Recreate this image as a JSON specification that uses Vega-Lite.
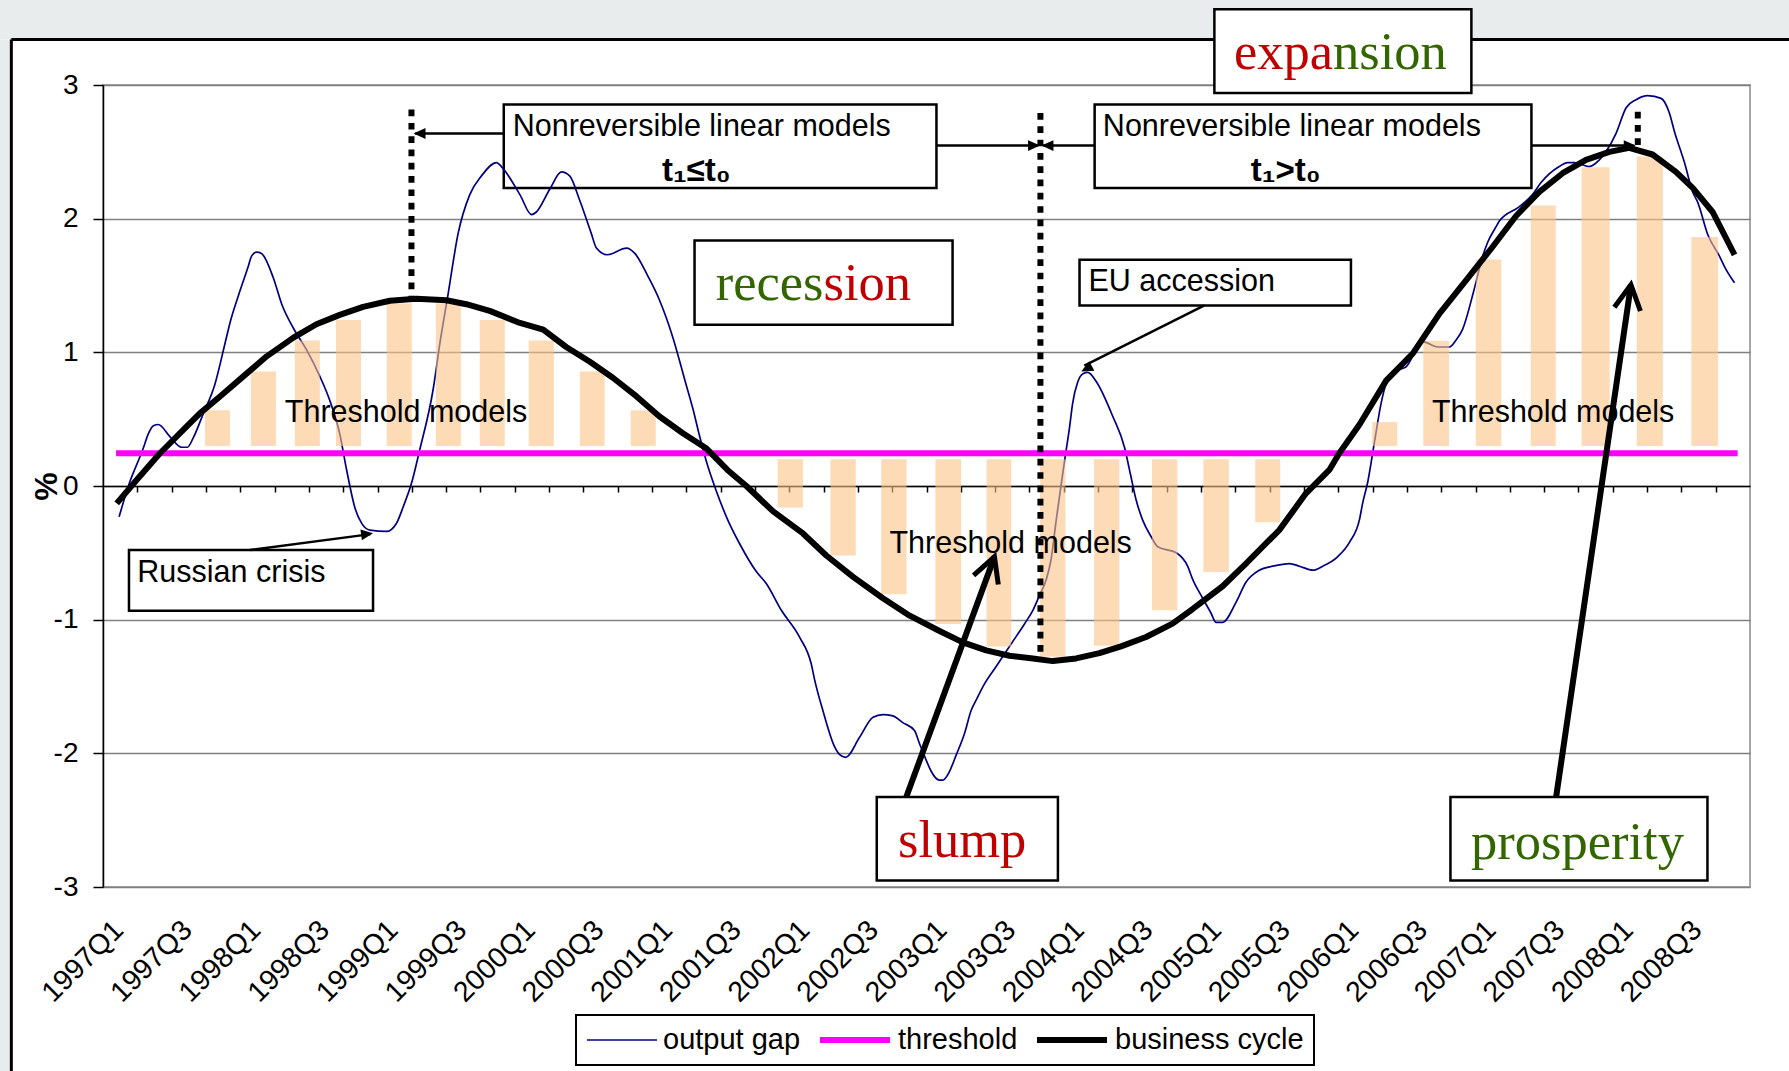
{
  "$schema": "https://vega.github.io/schema/vega-lite/v6.json",
  "width": 1647,
  "height": 802,
  "autosize": "none",
  "padding": {"left": 103, "top": 85, "right": 39, "bottom": 184},
  "background": "white",
  "config": {
    "view": {"stroke": "#A6A6A6", "strokeWidth": 2},
    "font": "Liberation Sans",
    "legend": {
      "orient": "none",
      "legendX": 473,
      "legendY": 930,
      "direction": "horizontal",
      "symbolType": "stroke",
      "symbolSize": 4900,
      "clipHeight": 30,
      "labelFont": "Liberation Sans",
      "labelFontSize": 29,
      "labelColor": "black",
      "labelOffset": 5,
      "labelLimit": 400,
      "columnPadding": 16,
      "padding": 10,
      "strokeColor": "black",
      "strokeWidth": 2,
      "fillColor": "white"
    }
  },
  "datasets": {
    "stripes": [
      {"t1": -3.1, "t2": 49.3, "v1": 3.7, "v2": 3.341},
      {"t1": -3.1, "t2": -2.671, "v1": 3.341, "v2": -4.5}
    ],
    "frame": [
      {"t1": -2.671, "t2": 49.3, "v1": 3.341, "v2": 3.341},
      {"t1": -2.671, "t2": -2.671, "v1": 3.341, "v2": -4.5}
    ],
    "boxes": [
      {"box": "A", "t1": 11.68, "t2": 24.29, "v1": 2.854, "v2": 2.23},
      {"box": "B", "t1": 28.9, "t2": 41.63, "v1": 2.854, "v2": 2.23},
      {"box": "expansion", "t1": 32.39, "t2": 39.88, "v1": 3.566, "v2": 2.94},
      {"box": "recession", "t1": 17.24, "t2": 24.76, "v1": 1.837, "v2": 1.206},
      {"box": "EU", "t1": 28.46, "t2": 36.37, "v1": 1.693, "v2": 1.351},
      {"box": "Russian", "t1": 0.757, "t2": 7.87, "v1": -0.479, "v2": -0.934},
      {"box": "slump", "t1": 22.55, "t2": 27.83, "v1": -2.327, "v2": -2.951},
      {"box": "prosperity", "t1": 39.27, "t2": 46.76, "v1": -2.327, "v2": -2.951}
    ],
    "outputGap": [
      {"t": 0.47, "v": -0.23, "series": "output gap"},
      {"t": 0.74, "v": 0.0, "series": "output gap"},
      {"t": 1.17, "v": 0.28, "series": "output gap"},
      {"t": 1.32, "v": 0.39, "series": "output gap"},
      {"t": 1.47, "v": 0.45, "series": "output gap"},
      {"t": 1.61, "v": 0.46, "series": "output gap"},
      {"t": 1.95, "v": 0.37, "series": "output gap"},
      {"t": 2.29, "v": 0.29, "series": "output gap"},
      {"t": 2.46, "v": 0.29, "series": "output gap"},
      {"t": 2.63, "v": 0.36, "series": "output gap"},
      {"t": 2.92, "v": 0.54, "series": "output gap"},
      {"t": 3.26, "v": 0.76, "series": "output gap"},
      {"t": 3.55, "v": 1.06, "series": "output gap"},
      {"t": 3.7, "v": 1.22, "series": "output gap"},
      {"t": 3.94, "v": 1.42, "series": "output gap"},
      {"t": 4.23, "v": 1.64, "series": "output gap"},
      {"t": 4.33, "v": 1.72, "series": "output gap"},
      {"t": 4.48, "v": 1.75, "series": "output gap"},
      {"t": 4.62, "v": 1.74, "series": "output gap"},
      {"t": 4.96, "v": 1.56, "series": "output gap"},
      {"t": 5.21, "v": 1.36, "series": "output gap"},
      {"t": 5.55, "v": 1.18, "series": "output gap"},
      {"t": 5.93, "v": 1.02, "series": "output gap"},
      {"t": 6.32, "v": 0.82, "series": "output gap"},
      {"t": 6.61, "v": 0.64, "series": "output gap"},
      {"t": 6.9, "v": 0.39, "series": "output gap"},
      {"t": 7.1, "v": 0.12, "series": "output gap"},
      {"t": 7.35, "v": -0.17, "series": "output gap"},
      {"t": 7.54, "v": -0.28, "series": "output gap"},
      {"t": 7.78, "v": -0.33, "series": "output gap"},
      {"t": 8.26, "v": -0.34, "series": "output gap"},
      {"t": 8.55, "v": -0.28, "series": "output gap"},
      {"t": 8.75, "v": -0.155, "series": "output gap"},
      {"t": 8.99, "v": 0.02, "series": "output gap"},
      {"t": 9.23, "v": 0.27, "series": "output gap"},
      {"t": 9.62, "v": 0.72, "series": "output gap"},
      {"t": 9.82, "v": 1.07, "series": "output gap"},
      {"t": 10.06, "v": 1.44, "series": "output gap"},
      {"t": 10.35, "v": 1.89, "series": "output gap"},
      {"t": 10.69, "v": 2.18, "series": "output gap"},
      {"t": 11.03, "v": 2.32, "series": "output gap"},
      {"t": 11.47, "v": 2.42, "series": "output gap"},
      {"t": 11.61, "v": 2.39, "series": "output gap"},
      {"t": 12.15, "v": 2.18, "series": "output gap"},
      {"t": 12.49, "v": 2.03, "series": "output gap"},
      {"t": 12.63, "v": 2.05, "series": "output gap"},
      {"t": 13.02, "v": 2.22, "series": "output gap"},
      {"t": 13.36, "v": 2.35, "series": "output gap"},
      {"t": 13.6, "v": 2.32, "series": "output gap"},
      {"t": 13.89, "v": 2.14, "series": "output gap"},
      {"t": 14.23, "v": 1.89, "series": "output gap"},
      {"t": 14.38, "v": 1.78, "series": "output gap"},
      {"t": 14.69, "v": 1.73, "series": "output gap"},
      {"t": 15.26, "v": 1.78, "series": "output gap"},
      {"t": 15.5, "v": 1.74, "series": "output gap"},
      {"t": 15.88, "v": 1.57, "series": "output gap"},
      {"t": 16.22, "v": 1.39, "series": "output gap"},
      {"t": 16.61, "v": 1.11, "series": "output gap"},
      {"t": 16.96, "v": 0.79, "series": "output gap"},
      {"t": 17.2, "v": 0.57, "series": "output gap"},
      {"t": 17.39, "v": 0.37, "series": "output gap"},
      {"t": 17.63, "v": 0.145, "series": "output gap"},
      {"t": 17.85, "v": -0.02, "series": "output gap"},
      {"t": 18.21, "v": -0.255, "series": "output gap"},
      {"t": 18.55, "v": -0.43, "series": "output gap"},
      {"t": 19.04, "v": -0.64, "series": "output gap"},
      {"t": 19.33, "v": -0.73, "series": "output gap"},
      {"t": 19.77, "v": -0.93, "series": "output gap"},
      {"t": 20.3, "v": -1.13, "series": "output gap"},
      {"t": 20.64, "v": -1.33, "series": "output gap"},
      {"t": 20.74, "v": -1.45, "series": "output gap"},
      {"t": 20.98, "v": -1.68, "series": "output gap"},
      {"t": 21.32, "v": -1.95, "series": "output gap"},
      {"t": 21.47, "v": -2.01, "series": "output gap"},
      {"t": 21.64, "v": -2.03, "series": "output gap"},
      {"t": 22.05, "v": -1.88, "series": "output gap"},
      {"t": 22.44, "v": -1.73, "series": "output gap"},
      {"t": 22.73, "v": -1.71, "series": "output gap"},
      {"t": 23.02, "v": -1.72, "series": "output gap"},
      {"t": 23.31, "v": -1.77, "series": "output gap"},
      {"t": 23.65, "v": -1.83, "series": "output gap"},
      {"t": 23.8, "v": -1.93, "series": "output gap"},
      {"t": 24.38, "v": -2.2, "series": "output gap"},
      {"t": 24.48, "v": -2.2, "series": "output gap"},
      {"t": 24.62, "v": -2.16, "series": "output gap"},
      {"t": 24.87, "v": -2.01, "series": "output gap"},
      {"t": 25.11, "v": -1.85, "series": "output gap"},
      {"t": 25.3, "v": -1.68, "series": "output gap"},
      {"t": 25.45, "v": -1.6, "series": "output gap"},
      {"t": 25.69, "v": -1.48, "series": "output gap"},
      {"t": 26.03, "v": -1.35, "series": "output gap"},
      {"t": 26.47, "v": -1.18, "series": "output gap"},
      {"t": 26.86, "v": -1.03, "series": "output gap"},
      {"t": 27.1, "v": -0.93, "series": "output gap"},
      {"t": 27.29, "v": -0.82, "series": "output gap"},
      {"t": 27.49, "v": -0.7, "series": "output gap"},
      {"t": 27.63, "v": -0.55, "series": "output gap"},
      {"t": 27.78, "v": -0.255, "series": "output gap"},
      {"t": 27.93, "v": 0.02, "series": "output gap"},
      {"t": 28.03, "v": 0.2, "series": "output gap"},
      {"t": 28.17, "v": 0.44, "series": "output gap"},
      {"t": 28.26, "v": 0.62, "series": "output gap"},
      {"t": 28.41, "v": 0.78, "series": "output gap"},
      {"t": 28.56, "v": 0.84, "series": "output gap"},
      {"t": 28.7, "v": 0.85, "series": "output gap"},
      {"t": 28.95, "v": 0.78, "series": "output gap"},
      {"t": 29.43, "v": 0.52, "series": "output gap"},
      {"t": 29.77, "v": 0.29, "series": "output gap"},
      {"t": 29.95, "v": 0.08, "series": "output gap"},
      {"t": 30.11, "v": -0.105, "series": "output gap"},
      {"t": 30.3, "v": -0.255, "series": "output gap"},
      {"t": 30.55, "v": -0.38, "series": "output gap"},
      {"t": 30.74, "v": -0.455, "series": "output gap"},
      {"t": 31.28, "v": -0.5, "series": "output gap"},
      {"t": 31.61, "v": -0.6, "series": "output gap"},
      {"t": 31.76, "v": -0.7, "series": "output gap"},
      {"t": 32.05, "v": -0.84, "series": "output gap"},
      {"t": 32.29, "v": -0.95, "series": "output gap"},
      {"t": 32.44, "v": -1.02, "series": "output gap"},
      {"t": 32.63, "v": -1.02, "series": "output gap"},
      {"t": 33.02, "v": -0.87, "series": "output gap"},
      {"t": 33.31, "v": -0.72, "series": "output gap"},
      {"t": 33.7, "v": -0.63, "series": "output gap"},
      {"t": 34.09, "v": -0.6, "series": "output gap"},
      {"t": 34.58, "v": -0.58, "series": "output gap"},
      {"t": 34.87, "v": -0.6, "series": "output gap"},
      {"t": 35.26, "v": -0.63, "series": "output gap"},
      {"t": 35.55, "v": -0.6, "series": "output gap"},
      {"t": 35.98, "v": -0.53, "series": "output gap"},
      {"t": 36.33, "v": -0.42, "series": "output gap"},
      {"t": 36.62, "v": -0.25, "series": "output gap"},
      {"t": 36.71, "v": -0.13, "series": "output gap"},
      {"t": 36.86, "v": 0.03, "series": "output gap"},
      {"t": 37.05, "v": 0.32, "series": "output gap"},
      {"t": 37.25, "v": 0.62, "series": "output gap"},
      {"t": 37.39, "v": 0.76, "series": "output gap"},
      {"t": 37.78, "v": 0.87, "series": "output gap"},
      {"t": 37.97, "v": 0.89, "series": "output gap"},
      {"t": 38.46, "v": 1.08, "series": "output gap"},
      {"t": 38.9, "v": 1.04, "series": "output gap"},
      {"t": 39.24, "v": 1.04, "series": "output gap"},
      {"t": 39.43, "v": 1.09, "series": "output gap"},
      {"t": 39.62, "v": 1.17, "series": "output gap"},
      {"t": 39.96, "v": 1.47, "series": "output gap"},
      {"t": 40.21, "v": 1.72, "series": "output gap"},
      {"t": 40.35, "v": 1.82, "series": "output gap"},
      {"t": 40.6, "v": 1.94, "series": "output gap"},
      {"t": 40.69, "v": 1.98, "series": "output gap"},
      {"t": 41.28, "v": 2.09, "series": "output gap"},
      {"t": 41.66, "v": 2.18, "series": "output gap"},
      {"t": 41.91, "v": 2.27, "series": "output gap"},
      {"t": 42.44, "v": 2.39, "series": "output gap"},
      {"t": 42.68, "v": 2.42, "series": "output gap"},
      {"t": 42.88, "v": 2.42, "series": "output gap"},
      {"t": 43.31, "v": 2.39, "series": "output gap"},
      {"t": 43.61, "v": 2.44, "series": "output gap"},
      {"t": 43.8, "v": 2.5, "series": "output gap"},
      {"t": 44.1, "v": 2.64, "series": "output gap"},
      {"t": 44.39, "v": 2.83, "series": "output gap"},
      {"t": 44.68, "v": 2.89, "series": "output gap"},
      {"t": 45.02, "v": 2.92, "series": "output gap"},
      {"t": 45.41, "v": 2.9, "series": "output gap"},
      {"t": 45.65, "v": 2.79, "series": "output gap"},
      {"t": 45.8, "v": 2.65, "series": "output gap"},
      {"t": 46.09, "v": 2.42, "series": "output gap"},
      {"t": 46.33, "v": 2.2, "series": "output gap"},
      {"t": 46.48, "v": 2.12, "series": "output gap"},
      {"t": 46.77, "v": 1.88, "series": "output gap"},
      {"t": 47.11, "v": 1.72, "series": "output gap"},
      {"t": 47.26, "v": 1.64, "series": "output gap"},
      {"t": 47.55, "v": 1.52, "series": "output gap"}
    ],
    "bars": [
      {"t1": 2.97, "t2": 3.7, "v": 0.567, "base": 0.3},
      {"t1": 4.31, "t2": 5.04, "v": 0.857, "base": 0.3},
      {"t1": 5.59, "t2": 6.32, "v": 1.088, "base": 0.3},
      {"t1": 6.79, "t2": 7.52, "v": 1.241, "base": 0.3},
      {"t1": 8.27, "t2": 9.0, "v": 1.366, "base": 0.3},
      {"t1": 9.7, "t2": 10.43, "v": 1.366, "base": 0.3},
      {"t1": 10.98, "t2": 11.71, "v": 1.241, "base": 0.3},
      {"t1": 12.41, "t2": 13.14, "v": 1.088, "base": 0.3},
      {"t1": 13.9, "t2": 14.62, "v": 0.857, "base": 0.3},
      {"t1": 15.38, "t2": 16.11, "v": 0.566, "base": 0.3},
      {"t1": 19.66, "t2": 20.4, "v": -0.16, "base": 0.2},
      {"t1": 21.2, "t2": 21.94, "v": -0.52, "base": 0.2},
      {"t1": 22.68, "t2": 23.42, "v": -0.81, "base": 0.2},
      {"t1": 24.26, "t2": 25.01, "v": -1.033, "base": 0.2},
      {"t1": 25.75, "t2": 26.47, "v": -1.2, "base": 0.2},
      {"t1": 27.31, "t2": 28.05, "v": -1.278, "base": 0.2},
      {"t1": 28.88, "t2": 29.62, "v": -1.195, "base": 0.2},
      {"t1": 30.57, "t2": 31.31, "v": -0.93, "base": 0.2},
      {"t1": 32.07, "t2": 32.81, "v": -0.644, "base": 0.2},
      {"t1": 33.58, "t2": 34.31, "v": -0.271, "base": 0.2},
      {"t1": 36.99, "t2": 37.72, "v": 0.478, "base": 0.3},
      {"t1": 38.48, "t2": 39.23, "v": 1.087, "base": 0.3},
      {"t1": 40.01, "t2": 40.75, "v": 1.694, "base": 0.3},
      {"t1": 41.61, "t2": 42.34, "v": 2.098, "base": 0.3},
      {"t1": 43.09, "t2": 43.91, "v": 2.384, "base": 0.3},
      {"t1": 44.7, "t2": 45.46, "v": 2.466, "base": 0.3},
      {"t1": 46.29, "t2": 47.07, "v": 1.862, "base": 0.3}
    ],
    "threshold": [
      {"t": 0.38, "v": 0.245, "series": "threshold"},
      {"t": 47.64, "v": 0.245, "series": "threshold"}
    ],
    "businessCycle": [
      {"t": 0.4, "v": -0.13, "series": "business cycle"},
      {"t": 0.98, "v": 0.045, "series": "business cycle"},
      {"t": 1.66, "v": 0.245, "series": "business cycle"},
      {"t": 2.34, "v": 0.42, "series": "business cycle"},
      {"t": 2.83, "v": 0.545, "series": "business cycle"},
      {"t": 3.41, "v": 0.67, "series": "business cycle"},
      {"t": 4.09, "v": 0.82, "series": "business cycle"},
      {"t": 4.77, "v": 0.97, "series": "business cycle"},
      {"t": 5.55, "v": 1.11, "series": "business cycle"},
      {"t": 6.22, "v": 1.21, "series": "business cycle"},
      {"t": 6.9, "v": 1.28, "series": "business cycle"},
      {"t": 7.58, "v": 1.34, "series": "business cycle"},
      {"t": 8.36, "v": 1.386, "series": "business cycle"},
      {"t": 9.13, "v": 1.4, "series": "business cycle"},
      {"t": 10.01, "v": 1.39, "series": "business cycle"},
      {"t": 10.59, "v": 1.36, "series": "business cycle"},
      {"t": 11.27, "v": 1.31, "series": "business cycle"},
      {"t": 12.15, "v": 1.22, "series": "business cycle"},
      {"t": 12.83, "v": 1.17, "series": "business cycle"},
      {"t": 13.5, "v": 1.04, "series": "business cycle"},
      {"t": 14.19, "v": 0.93, "series": "business cycle"},
      {"t": 14.86, "v": 0.81, "series": "business cycle"},
      {"t": 15.55, "v": 0.67, "series": "business cycle"},
      {"t": 16.22, "v": 0.52, "series": "business cycle"},
      {"t": 16.9, "v": 0.395, "series": "business cycle"},
      {"t": 17.59, "v": 0.28, "series": "business cycle"},
      {"t": 18.2, "v": 0.12, "series": "business cycle"},
      {"t": 18.75, "v": 0.0, "series": "business cycle"},
      {"t": 19.53, "v": -0.19, "series": "business cycle"},
      {"t": 20.4, "v": -0.355, "series": "business cycle"},
      {"t": 21.08, "v": -0.52, "series": "business cycle"},
      {"t": 21.86, "v": -0.68, "series": "business cycle"},
      {"t": 22.73, "v": -0.84, "series": "business cycle"},
      {"t": 23.51, "v": -0.97, "series": "business cycle"},
      {"t": 24.38, "v": -1.085, "series": "business cycle"},
      {"t": 25.06, "v": -1.17, "series": "business cycle"},
      {"t": 25.74, "v": -1.23, "series": "business cycle"},
      {"t": 26.42, "v": -1.27, "series": "business cycle"},
      {"t": 27.1, "v": -1.29, "series": "business cycle"},
      {"t": 27.68, "v": -1.31, "series": "business cycle"},
      {"t": 28.36, "v": -1.29, "series": "business cycle"},
      {"t": 29.04, "v": -1.25, "series": "business cycle"},
      {"t": 29.67, "v": -1.2, "series": "business cycle"},
      {"t": 30.4, "v": -1.13, "series": "business cycle"},
      {"t": 31.17, "v": -1.03, "series": "business cycle"},
      {"t": 31.76, "v": -0.92, "series": "business cycle"},
      {"t": 32.63, "v": -0.75, "series": "business cycle"},
      {"t": 33.31, "v": -0.58, "series": "business cycle"},
      {"t": 34.28, "v": -0.33, "series": "business cycle"},
      {"t": 35.06, "v": -0.055, "series": "business cycle"},
      {"t": 35.74, "v": 0.12, "series": "business cycle"},
      {"t": 36.03, "v": 0.245, "series": "business cycle"},
      {"t": 36.62, "v": 0.46, "series": "business cycle"},
      {"t": 37.4, "v": 0.79, "series": "business cycle"},
      {"t": 38.17, "v": 0.99, "series": "business cycle"},
      {"t": 38.95, "v": 1.29, "series": "business cycle"},
      {"t": 39.73, "v": 1.54, "series": "business cycle"},
      {"t": 40.5, "v": 1.79, "series": "business cycle"},
      {"t": 41.18, "v": 2.02, "series": "business cycle"},
      {"t": 41.86, "v": 2.2, "series": "business cycle"},
      {"t": 42.54, "v": 2.34, "series": "business cycle"},
      {"t": 43.22, "v": 2.44, "series": "business cycle"},
      {"t": 43.9, "v": 2.5, "series": "business cycle"},
      {"t": 44.48, "v": 2.53, "series": "business cycle"},
      {"t": 45.16, "v": 2.48, "series": "business cycle"},
      {"t": 45.84, "v": 2.35, "series": "business cycle"},
      {"t": 46.33, "v": 2.23, "series": "business cycle"},
      {"t": 46.91, "v": 2.05, "series": "business cycle"},
      {"t": 47.55, "v": 1.73, "series": "business cycle"}
    ],
    "dashed": [
      {"t": 8.99, "v1": 2.816, "v2": 1.4},
      {"t": 27.32, "v1": 2.79, "v2": -1.27},
      {"t": 44.73, "v1": 2.8, "v2": 2.5}
    ],
    "thinArrows": [
      {"name": "A-left", "t1": 11.68, "v1": 2.637, "t2": 9.1, "v2": 2.637},
      {"name": "A-right", "t1": 24.29, "v1": 2.547, "t2": 27.25, "v2": 2.547},
      {"name": "B-left", "t1": 28.9, "v1": 2.547, "t2": 27.4, "v2": 2.547},
      {"name": "B-right", "t1": 41.63, "v1": 2.547, "t2": 44.6, "v2": 2.547},
      {"name": "EU", "t1": 32.1, "v1": 1.351, "t2": 28.6, "v2": 0.9},
      {"name": "Russian", "t1": 4.28, "v1": -0.479, "t2": 7.8, "v2": -0.36}
    ],
    "thickArrows": [
      {"name": "slump", "t1": 23.41, "v1": -2.327, "t2": 25.98, "v2": -0.53},
      {"name": "prosperity", "t1": 42.35, "v1": -2.327, "t2": 44.53, "v2": 1.506}
    ],
    "headsLeft": [
      {"t": 9.05, "v": 2.637},
      {"t": 27.35, "v": 2.547}
    ],
    "headsRight": [
      {"t": 27.31, "v": 2.547},
      {"t": 44.67, "v": 2.547}
    ],
    "headEU": [{"t": 28.51, "v": 0.856}],
    "headRussian": [{"t": 7.87, "v": -0.354}],
    "headSlump": [{"t": 25.98, "v": -0.53}],
    "headProsperity": [{"t": 44.53, "v": 1.506}],
    "plainText": [
      {"label": "Nonreversible linear models", "t": 11.94, "v": 2.617},
      {"label": "Nonreversible linear models", "t": 29.14, "v": 2.617},
      {"label": "EU accession", "t": 28.72, "v": 1.461},
      {"label": "Russian crisis", "t": 1.0, "v": -0.717},
      {"label": "Threshold models", "t": 5.3, "v": 0.482},
      {"label": "Threshold models", "t": 22.92, "v": -0.504},
      {"label": "Threshold models", "t": 38.73, "v": 0.482}
    ],
    "boldText": [
      {"label": "t₁≤t₀", "t": 17.29, "v": 2.279},
      {"label": "t₁>t₀", "t": 34.47, "v": 2.279}
    ],
    "redRight": [{"label": "expa", "t": 35.85, "v": 3.119}],
    "greenLeft": [
      {"label": "nsion", "t": 35.85, "v": 3.119},
      {"label": "prosperity", "t": 39.87, "v": -2.789}
    ],
    "greenRight": [{"label": "reces", "t": 21.0, "v": 1.388}],
    "redLeft": [
      {"label": "sion", "t": 21.0, "v": 1.388},
      {"label": "slump", "t": 23.17, "v": -2.778}
    ]
  },
  "resolve": {"axis": {"x": "independent", "y": "independent"}},
  "layer": [
    {
      "data": {"name": "stripes"},
      "mark": {"type": "rect", "fill": "#E9ECEC"},
      "encoding": {
        "x": {"field": "t1", "type": "quantitative", "scale": {"domain": [0, 48], "nice": false, "zero": false}, "axis": null},
        "x2": {"field": "t2"},
        "y": {"field": "v1", "type": "quantitative", "scale": {"domain": [-3, 3], "nice": false, "zero": false}, "axis": null},
        "y2": {"field": "v2"}
      }
    },
    {
      "data": {"name": "frame"},
      "mark": {"type": "rule", "color": "black", "strokeWidth": 3},
      "encoding": {
        "x": {"field": "t1", "type": "quantitative", "scale": {"domain": [0, 48], "nice": false, "zero": false}, "axis": null},
        "x2": {"field": "t2"},
        "y": {"field": "v1", "type": "quantitative", "scale": {"domain": [-3, 3], "nice": false, "zero": false}, "axis": null},
        "y2": {"field": "v2"}
      }
    },
    {
      "data": {"name": "boxes"},
      "mark": {"type": "rect", "fill": "white", "stroke": "black", "strokeWidth": 2.5},
      "encoding": {
        "x": {"field": "t1", "type": "quantitative", "scale": {"domain": [0, 48], "nice": false, "zero": false}, "axis": null},
        "x2": {"field": "t2"},
        "y": {"field": "v1", "type": "quantitative", "scale": {"domain": [-3, 3], "nice": false, "zero": false}, "axis": null},
        "y2": {"field": "v2"}
      }
    },
    {
      "data": {"name": "outputGap"},
      "mark": {"type": "line", "interpolate": "monotone", "strokeCap": "butt"},
      "encoding": {
        "x": {
          "field": "t", "type": "quantitative",
          "scale": {"domain": [0, 48], "nice": false, "zero": false},
          "axis": {
            "orient": "bottom",
            "values": [0.5, 2.5, 4.5, 6.5, 8.5, 10.5, 12.5, 14.5, 16.5, 18.5, 20.5, 22.5, 24.5, 26.5, 28.5, 30.5, 32.5, 34.5, 36.5, 38.5, 40.5, 42.5, 44.5, 46.5],
            "labelExpr": "(1997 + floor(datum.value / 4)) + 'Q' + (floor(datum.value) % 4 + 1)",
            "labelAngle": -45,
            "labelAlign": "right",
            "labelBaseline": "middle",
            "labelPadding": 38,
            "labelOffset": -2,
            "labelFont": "Liberation Sans",
            "labelFontSize": 28.5,
            "labelColor": "black",
            "labelOverlap": false,
            "labelBound": false,
            "labelFlush": false,
            "ticks": false,
            "tickSize": 0,
            "domain": false,
            "grid": false,
            "title": null
          }
        },
        "y": {
          "field": "v", "type": "quantitative",
          "scale": {"domain": [-3, 3], "nice": false, "zero": false},
          "axis": {
            "orient": "left",
            "values": [-3, -2, -1, 0, 1, 2, 3],
            "labelExpr": "'' + datum.value",
            "labelFont": "Liberation Sans",
            "labelFontSize": 28,
            "labelColor": "black",
            "labelPadding": 15,
            "labelOverlap": false,
            "labelBound": false,
            "labelFlush": false,
            "tickSize": 10,
            "tickColor": "black",
            "tickWidth": 1.5,
            "domainColor": "black",
            "domainWidth": 1.5,
            "grid": true,
            "gridColor": "#808080",
            "gridWidth": 1.3,
            "title": "%",
            "titleFont": "Liberation Sans",
            "titleFontSize": 32,
            "titleFontWeight": "bold",
            "titleColor": "black",
            "titleAngle": 270,
            "titleX": -56.5,
            "titleY": 401,
            "titleAlign": "center",
            "titleBaseline": "middle"
          }
        },
        "color": {
          "field": "series", "type": "nominal",
          "scale": {"domain": ["output gap", "threshold", "business cycle"], "range": ["#000080", "#FF00FF", "#000000"]},
          "legend": {"title": null}
        },
        "strokeWidth": {
          "field": "series", "type": "nominal",
          "scale": {"type": "ordinal", "domain": ["output gap", "threshold", "business cycle"], "range": [1.7, 6, 6]},
          "legend": {"title": null}
        }
      }
    },
    {
      "data": {"name": "bars"},
      "mark": {"type": "rect", "fill": "#FCC385", "opacity": 0.6},
      "encoding": {
        "x": {"field": "t1", "type": "quantitative", "scale": {"domain": [0, 48], "nice": false, "zero": false}, "axis": null},
        "x2": {"field": "t2"},
        "y": {"field": "v", "type": "quantitative", "scale": {"domain": [-3, 3], "nice": false, "zero": false}, "axis": null},
        "y2": {"field": "base"}
      }
    },
    {
      "data": {"name": "threshold"},
      "mark": {"type": "line", "strokeCap": "butt"},
      "encoding": {
        "x": {
          "field": "t", "type": "quantitative",
          "scale": {"domain": [0, 48], "nice": false, "zero": false},
          "axis": {
            "orient": "bottom",
            "offset": -401,
            "values": [1, 2, 3, 4, 5, 6, 7, 8, 9, 10, 11, 12, 13, 14, 15, 16, 17, 18, 19, 20, 21, 22, 23, 24, 25, 26, 27, 28, 29, 30, 31, 32, 33, 34, 35, 36, 37, 38, 39, 40, 41, 42, 43, 44, 45, 46, 47],
            "labels": false,
            "ticks": true,
            "tickSize": 6,
            "tickColor": "black",
            "tickWidth": 1.5,
            "domain": true,
            "domainColor": "black",
            "domainWidth": 1.5,
            "grid": false,
            "title": null
          }
        },
        "y": {"field": "v", "type": "quantitative", "scale": {"domain": [-3, 3], "nice": false, "zero": false}, "axis": null},
        "color": {
          "field": "series", "type": "nominal",
          "scale": {"domain": ["output gap", "threshold", "business cycle"], "range": ["#000080", "#FF00FF", "#000000"]},
          "legend": {"title": null}
        },
        "strokeWidth": {
          "field": "series", "type": "nominal",
          "scale": {"type": "ordinal", "domain": ["output gap", "threshold", "business cycle"], "range": [1.7, 6, 6]},
          "legend": {"title": null}
        }
      }
    },
    {
      "data": {"name": "businessCycle"},
      "mark": {"type": "line", "strokeCap": "butt", "strokeJoin": "round"},
      "encoding": {
        "x": {"field": "t", "type": "quantitative", "scale": {"domain": [0, 48], "nice": false, "zero": false}, "axis": null},
        "y": {"field": "v", "type": "quantitative", "scale": {"domain": [-3, 3], "nice": false, "zero": false}, "axis": null},
        "color": {
          "field": "series", "type": "nominal",
          "scale": {"domain": ["output gap", "threshold", "business cycle"], "range": ["#000080", "#FF00FF", "#000000"]},
          "legend": {"title": null}
        },
        "strokeWidth": {
          "field": "series", "type": "nominal",
          "scale": {"type": "ordinal", "domain": ["output gap", "threshold", "business cycle"], "range": [1.7, 6, 6]},
          "legend": {"title": null}
        }
      }
    },
    {
      "data": {"name": "dashed"},
      "mark": {"type": "rule", "color": "black", "strokeWidth": 6, "strokeDash": [6.7, 6.6]},
      "encoding": {
        "x": {"field": "t", "type": "quantitative", "scale": {"domain": [0, 48], "nice": false, "zero": false}, "axis": null},
        "y": {"field": "v1", "type": "quantitative", "scale": {"domain": [-3, 3], "nice": false, "zero": false}, "axis": null},
        "y2": {"field": "v2"}
      }
    },
    {
      "data": {"name": "thinArrows"},
      "mark": {"type": "rule", "color": "black", "strokeWidth": 2.5},
      "encoding": {
        "x": {"field": "t1", "type": "quantitative", "scale": {"domain": [0, 48], "nice": false, "zero": false}, "axis": null},
        "x2": {"field": "t2"},
        "y": {"field": "v1", "type": "quantitative", "scale": {"domain": [-3, 3], "nice": false, "zero": false}, "axis": null},
        "y2": {"field": "v2"}
      }
    },
    {
      "data": {"name": "thickArrows"},
      "mark": {"type": "rule", "color": "black", "strokeWidth": 6},
      "encoding": {
        "x": {"field": "t1", "type": "quantitative", "scale": {"domain": [0, 48], "nice": false, "zero": false}, "axis": null},
        "x2": {"field": "t2"},
        "y": {"field": "v1", "type": "quantitative", "scale": {"domain": [-3, 3], "nice": false, "zero": false}, "axis": null},
        "y2": {"field": "v2"}
      }
    },
    {
      "data": {"name": "headsLeft"},
      "mark": {"type": "point", "shape": "M0,0 L-0.45,1 L0.45,1 Z", "filled": true, "color": "black", "opacity": 1, "size": 576, "angle": 270},
      "encoding": {
        "x": {"field": "t", "type": "quantitative", "scale": {"domain": [0, 48], "nice": false, "zero": false}, "axis": null},
        "y": {"field": "v", "type": "quantitative", "scale": {"domain": [-3, 3], "nice": false, "zero": false}, "axis": null}
      }
    },
    {
      "data": {"name": "headsRight"},
      "mark": {"type": "point", "shape": "M0,0 L-0.45,1 L0.45,1 Z", "filled": true, "color": "black", "opacity": 1, "size": 576, "angle": 90},
      "encoding": {
        "x": {"field": "t", "type": "quantitative", "scale": {"domain": [0, 48], "nice": false, "zero": false}, "axis": null},
        "y": {"field": "v", "type": "quantitative", "scale": {"domain": [-3, 3], "nice": false, "zero": false}, "axis": null}
      }
    },
    {
      "data": {"name": "headEU"},
      "mark": {"type": "point", "shape": "M0,0 L-0.45,1 L0.45,1 Z", "filled": true, "color": "black", "opacity": 1, "size": 576, "angle": 241.8},
      "encoding": {
        "x": {"field": "t", "type": "quantitative", "scale": {"domain": [0, 48], "nice": false, "zero": false}, "axis": null},
        "y": {"field": "v", "type": "quantitative", "scale": {"domain": [-3, 3], "nice": false, "zero": false}, "axis": null}
      }
    },
    {
      "data": {"name": "headRussian"},
      "mark": {"type": "point", "shape": "M0,0 L-0.45,1 L0.45,1 Z", "filled": true, "color": "black", "opacity": 1, "size": 576, "angle": 82.3},
      "encoding": {
        "x": {"field": "t", "type": "quantitative", "scale": {"domain": [0, 48], "nice": false, "zero": false}, "axis": null},
        "y": {"field": "v", "type": "quantitative", "scale": {"domain": [-3, 3], "nice": false, "zero": false}, "axis": null}
      }
    },
    {
      "data": {"name": "headSlump"},
      "mark": {"type": "point", "shape": "M-0.47,0.88 L0,0 L0.47,0.88", "filled": false, "stroke": "black", "strokeWidth": 5, "strokeJoin": "miter", "opacity": 1, "size": 3136, "angle": 20.2},
      "encoding": {
        "x": {"field": "t", "type": "quantitative", "scale": {"domain": [0, 48], "nice": false, "zero": false}, "axis": null},
        "y": {"field": "v", "type": "quantitative", "scale": {"domain": [-3, 3], "nice": false, "zero": false}, "axis": null}
      }
    },
    {
      "data": {"name": "headProsperity"},
      "mark": {"type": "point", "shape": "M-0.47,0.88 L0,0 L0.47,0.88", "filled": false, "stroke": "black", "strokeWidth": 5, "strokeJoin": "miter", "opacity": 1, "size": 3136, "angle": 8.3},
      "encoding": {
        "x": {"field": "t", "type": "quantitative", "scale": {"domain": [0, 48], "nice": false, "zero": false}, "axis": null},
        "y": {"field": "v", "type": "quantitative", "scale": {"domain": [-3, 3], "nice": false, "zero": false}, "axis": null}
      }
    },
    {
      "data": {"name": "plainText"},
      "mark": {"type": "text", "align": "left", "baseline": "alphabetic", "font": "Liberation Sans", "fontSize": 30.5, "color": "black"},
      "encoding": {
        "x": {"field": "t", "type": "quantitative", "scale": {"domain": [0, 48], "nice": false, "zero": false}, "axis": null},
        "y": {"field": "v", "type": "quantitative", "scale": {"domain": [-3, 3], "nice": false, "zero": false}, "axis": null},
        "text": {"field": "label"}
      }
    },
    {
      "data": {"name": "boldText"},
      "mark": {"type": "text", "align": "center", "baseline": "alphabetic", "font": "Liberation Sans", "fontSize": 33, "fontWeight": "bold", "color": "black"},
      "encoding": {
        "x": {"field": "t", "type": "quantitative", "scale": {"domain": [0, 48], "nice": false, "zero": false}, "axis": null},
        "y": {"field": "v", "type": "quantitative", "scale": {"domain": [-3, 3], "nice": false, "zero": false}, "axis": null},
        "text": {"field": "label"}
      }
    },
    {
      "data": {"name": "redRight"},
      "mark": {"type": "text", "align": "right", "baseline": "alphabetic", "font": "Liberation Serif", "fontSize": 52.5, "color": "#C00000"},
      "encoding": {
        "x": {"field": "t", "type": "quantitative", "scale": {"domain": [0, 48], "nice": false, "zero": false}, "axis": null},
        "y": {"field": "v", "type": "quantitative", "scale": {"domain": [-3, 3], "nice": false, "zero": false}, "axis": null},
        "text": {"field": "label"}
      }
    },
    {
      "data": {"name": "redLeft"},
      "mark": {"type": "text", "align": "left", "baseline": "alphabetic", "font": "Liberation Serif", "fontSize": 52.5, "color": "#C00000"},
      "encoding": {
        "x": {"field": "t", "type": "quantitative", "scale": {"domain": [0, 48], "nice": false, "zero": false}, "axis": null},
        "y": {"field": "v", "type": "quantitative", "scale": {"domain": [-3, 3], "nice": false, "zero": false}, "axis": null},
        "text": {"field": "label"}
      }
    },
    {
      "data": {"name": "greenRight"},
      "mark": {"type": "text", "align": "right", "baseline": "alphabetic", "font": "Liberation Serif", "fontSize": 52.5, "color": "#336600"},
      "encoding": {
        "x": {"field": "t", "type": "quantitative", "scale": {"domain": [0, 48], "nice": false, "zero": false}, "axis": null},
        "y": {"field": "v", "type": "quantitative", "scale": {"domain": [-3, 3], "nice": false, "zero": false}, "axis": null},
        "text": {"field": "label"}
      }
    },
    {
      "data": {"name": "greenLeft"},
      "mark": {"type": "text", "align": "left", "baseline": "alphabetic", "font": "Liberation Serif", "fontSize": 52.5, "color": "#336600"},
      "encoding": {
        "x": {"field": "t", "type": "quantitative", "scale": {"domain": [0, 48], "nice": false, "zero": false}, "axis": null},
        "y": {"field": "v", "type": "quantitative", "scale": {"domain": [-3, 3], "nice": false, "zero": false}, "axis": null},
        "text": {"field": "label"}
      }
    }
  ]
}
